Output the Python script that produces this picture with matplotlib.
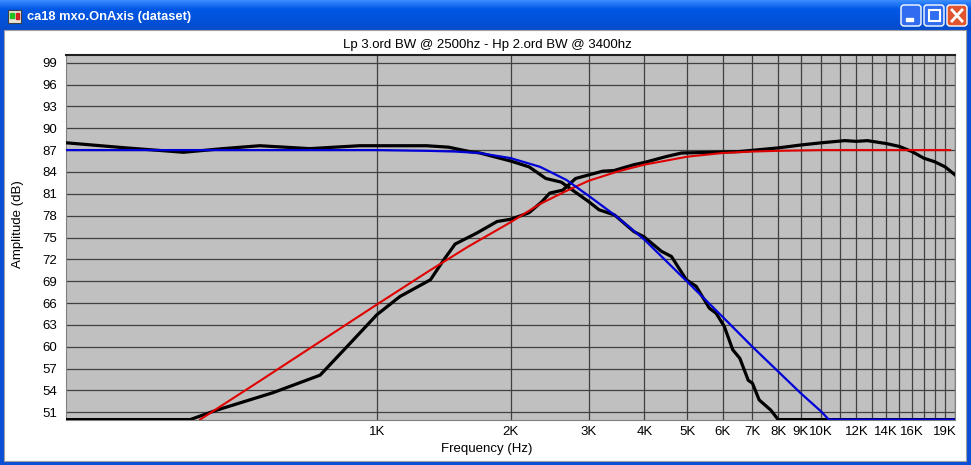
import matplotlib
matplotlib.use('Agg')
import matplotlib.pyplot as plt
import numpy as np
from matplotlib.patches import Rectangle, FancyBboxPatch

# --- data (frequency in Hz, level in dB) ---
woofer_f = [200, 273, 367, 450, 545, 706, 914, 1000, 1294, 1450, 1615, 1706, 2000,
            2200, 2400, 2600, 3000, 3163, 3425, 3790, 3990, 4370, 4600, 4970, 5230,
            5600, 5800, 6050, 6320, 6560, 6850, 7000, 7250, 7700, 8000, 20000]
woofer_db = [88.0, 87.3, 86.7, 87.2, 87.6, 87.2, 87.6, 87.6, 87.6, 87.4, 86.8, 86.6, 85.5,
             84.7, 83.1, 82.6, 79.9, 78.8, 78.1, 75.8, 75.1, 73.1, 72.4, 69.2, 68.3,
             65.3, 64.6, 62.8, 59.6, 58.4, 55.4, 55.0, 52.7, 51.3, 50.0, 50.0]

tweeter_f = [200, 380, 436, 584, 745, 856, 1000, 1127, 1320, 1413, 1500, 1677, 1865, 2000,
             2200, 2350, 2450, 2620, 2800, 3000, 3220, 3420, 3790, 4000, 4470, 4850, 5720,
             6540, 8000, 9000, 10000, 11300, 12000, 12700, 14000, 15000, 16000, 17000,
             18000, 19000, 20000]
tweeter_db = [50.0, 50.0, 51.3, 53.7, 56.1, 60.0, 64.4, 66.9, 69.2, 71.9, 74.1, 75.6, 77.2, 77.5,
              78.4, 79.9, 81.1, 81.5, 83.1, 83.6, 84.1, 84.2, 85.0, 85.3, 86.1, 86.6, 86.7,
              86.8, 87.3, 87.7, 88.0, 88.3, 88.2, 88.3, 87.9, 87.5, 86.8, 85.9,
              85.4, 84.7, 83.6]

hp_target_f = [400, 545, 771, 1000, 1294, 1600, 2000, 2328, 2670, 3000, 3500, 4000, 5000,
               6000, 7000, 8000, 10000, 19500]
hp_target_db = [50.0, 55.3, 61.3, 65.8, 70.2, 73.7, 77.1, 79.6, 81.4, 82.8, 84.1, 85.0, 86.1,
                86.6, 86.8, 86.9, 87.0, 87.0]

lp_target_f = [200, 1000, 1300, 1500, 1700, 2000, 2330, 2670, 3000, 3460, 4000, 5000, 6000,
               7000, 8000, 9000, 10000, 10400, 20000]
lp_target_db = [87.0, 87.0, 86.9, 86.8, 86.6, 85.9, 84.7, 82.9, 80.7, 77.9, 74.7, 68.9, 64.1,
                60.0, 56.6, 53.6, 51.1, 50.0, 50.0]

x_ticks = [1000, 2000, 3000, 4000, 5000, 6000, 7000, 8000, 9000, 10000, 11000, 12000,
           13000, 14000, 15000, 16000, 17000, 18000, 19000, 20000]
x_labels = ['1K', '2K', '3K', '4K', '5K', '6K', '7K', '8K', '9K', '10K', '', '12K',
            '', '14K', '', '16K', '', '', '19K', '']
y_ticks = list(range(51, 100, 3))

W, H = 971, 465
plt.rcParams['font.family'] = ['Liberation Sans', 'DejaVu Sans']
FS = 9.5

fig = plt.figure(figsize=(W / 100, H / 100), dpi=100)

# window chrome, drawn in pixel coordinates
bg = fig.add_axes([0, 0, 1, 1])
bg.set_xlim(0, W)
bg.set_ylim(H, 0)
bg.axis('off')
bg.add_patch(Rectangle((0, 0), W, H, color='#0b4fd6'))
grad = np.linspace(0, 1, 30)[:, None]
top = np.array([0.23, 0.55, 1.0])
mid = np.array([0.0, 0.34, 0.90])
bot = np.array([0.02, 0.30, 0.80])
cols = np.where(grad[..., None] < 0.3,
                top + (mid - top) * (grad[..., None] / 0.3),
                mid + (bot - mid) * ((grad[..., None] - 0.3) / 0.7))
bg.imshow(np.repeat(cols, 2, axis=1), extent=(0, W, 30, 0), aspect='auto', zorder=1)
bg.add_patch(Rectangle((4, 30), W - 9, H - 34, facecolor='#ffffff',
                       edgecolor='#a0a0a0', lw=0.8, zorder=2))
# title icon
bg.add_patch(Rectangle((8, 10), 13, 13, facecolor='#e8e4d8', edgecolor='#404040', lw=0.8, zorder=3))
bg.add_patch(Rectangle((10, 13), 4, 5, color='#20c020', zorder=4))
bg.add_patch(Rectangle((16, 13), 3, 6, color='#d02020', zorder=4))
bg.text(27, 17, 'ca18 mxo.OnAxis (dataset)', color='white', fontsize=9.3,
        fontweight='bold', va='center', ha='left', zorder=5)
# title buttons
for bx, face in [(901, '#2f6cf0'), (924, '#2f6cf0'), (947, '#e0542e')]:
    bg.add_patch(FancyBboxPatch((bx, 5), 20, 21, boxstyle='round,pad=0,rounding_size=3',
                                facecolor=face, edgecolor='white', lw=1.0, zorder=5))
bg.add_patch(Rectangle((906, 18), 7, 3, color='white', zorder=6))
bg.add_patch(Rectangle((929, 10), 11, 11, facecolor='none', edgecolor='white', lw=1.5, zorder=6))
bg.plot([952, 962], [10, 21], color='white', lw=2, zorder=6)
bg.plot([952, 962], [21, 10], color='white', lw=2, zorder=6)

# plot area
x0, x1, y0, y1 = 66.3, 955.0, 55.4, 419.6
ax = fig.add_axes([x0 / W, 1 - y1 / H, (x1 - x0) / W, (y1 - y0) / H])
ax.set_facecolor('#c0c0c0')
ax.set_xscale('log')
ax.set_xlim(200, 20000)
ax.set_ylim(50, 100)

ax.plot(woofer_f, woofer_db, color='black', lw=2.3, solid_joinstyle='round', zorder=3)
ax.plot(tweeter_f, tweeter_db, color='black', lw=2.3, solid_joinstyle='round', zorder=3)
ax.plot(hp_target_f, hp_target_db, color='#e00000', lw=1.5, zorder=4)
ax.plot(lp_target_f, lp_target_db, color='#0000d8', lw=1.6, zorder=5)

ax.set_xticks(x_ticks)
ax.set_xticklabels(x_labels)
ax.xaxis.set_minor_locator(matplotlib.ticker.NullLocator())
ax.set_yticks(y_ticks)
ax.tick_params(length=0, labelsize=FS, labelcolor='#000000')
ax.tick_params(axis='x', pad=4.5)
ax.tick_params(axis='y', pad=6.5)
ax.grid(True, color='#404040', lw=0.9)
ax.set_axisbelow(True)
for side in ['left', 'bottom', 'right']:
    ax.spines[side].set_color('#808080')
ax.spines['top'].set_color('#202020')
ax.spines['top'].set_linewidth(1.5)

bg.text(487, 45, 'Lp 3.ord BW @ 2500hz - Hp 2.ord BW @ 3400hz', fontsize=FS,
        ha='center', va='center')
bg.text(487, 449, 'Frequency (Hz)', fontsize=FS, ha='center', va='center')
bg.text(18, 224, 'Amplitude (dB)', fontsize=FS, ha='center', va='center', rotation=90)

fig.savefig('out.png', dpi=100)
